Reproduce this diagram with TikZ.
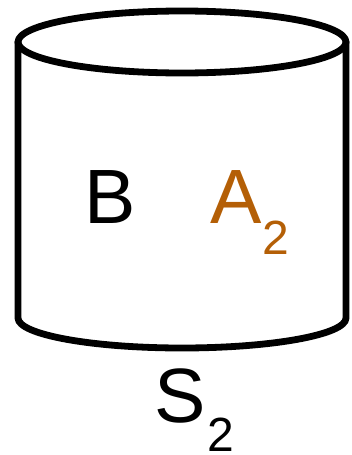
\documentclass[tikz,border=0pt]{standalone}
\usepackage{fontspec}
\setmainfont{Liberation Sans}
\usetikzlibrary{positioning}
\definecolor{sorange}{RGB}{180,95,6}
\tikzset{
  wall/.style={line width=6.8pt, line join=round, line cap=round},
  big/.style={inner sep=0pt, font=\fontsize{77}{80}\selectfont},
  small/.style={inner sep=0pt, font=\fontsize{48}{50}\selectfont}
}
\begin{document}
\begin{tikzpicture}[x=1pt,y=-1pt]
\useasboundingbox (0,0) rectangle (351,455);
% cylinder
\draw[wall] (182,42) ellipse (164 and 31);
\draw[wall] (18,42) -- (18,318) arc (180:0:164 and 30) -- (346,42);
% labels
\node[big, anchor=base] at (110,223) (b) {B};
\node[big, anchor=base, text=sorange] at (236,223) (a) {A};
\node[small, anchor=base west, text=sorange] at (262,254) (asub) {2};
\node[big, anchor=base] at (180.5,422) (s) {S};
\node[small, anchor=base west] at (207.5,451) (ssub) {2};
\end{tikzpicture}
\end{document}
